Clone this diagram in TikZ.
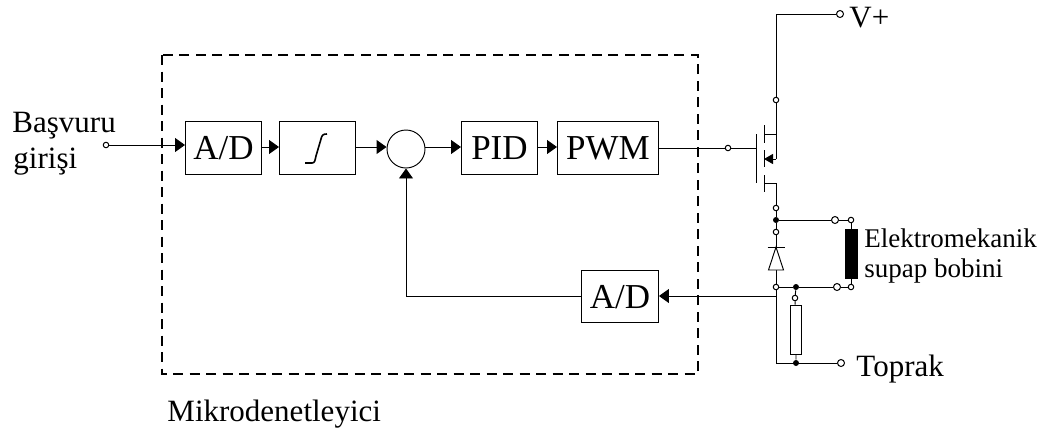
\documentclass[tikz,border=0pt]{standalone}
\usepackage{fontspec}
\setmainfont{Liberation Serif}
\usetikzlibrary{arrows.meta}
\begin{document}
\begin{tikzpicture}[x=1pt,y=-1pt,line width=.95pt,
  blk/.style={draw,rectangle,inner sep=0pt,anchor=north west,text depth=0pt,font=\fontsize{35}{35}\selectfont},
  term/.style={draw,circle,fill=white,inner sep=0pt,minimum size=5.5pt,line width=1pt},
  bigterm/.style={term,minimum size=7pt},
  dot/.style={circle,fill=black,inner sep=0pt,minimum size=6pt},
  lab/.style={inner sep=0pt,anchor=base west,align=left,font=\fontsize{31}{31}\selectfont},
  sm/.style={lab,font=\fontsize{27}{27}\selectfont},
  arr/.style={-{Triangle[length=10pt,width=14pt]}}]
\useasboundingbox (0,0) rectangle (1042,432);
\draw[dash pattern=on 10pt off 6.5pt,line width=1.3pt] (162,55) rectangle (698,374);
% blocks
\node[blk,minimum width=76pt,minimum height=53pt] (ad1) at (185,121) {A/D};
\node[blk,minimum width=76pt,minimum height=53pt] (int) at (279,121) {};
\node[blk,minimum width=76pt,minimum height=53pt] (pid) at (461,121) {PID};
\node[blk,minimum width=101pt,minimum height=53pt] (pwm) at (557,121) {PWM};
\node[blk,minimum width=77pt,minimum height=52pt] (ad2) at (581,270) {A/D};
\node[draw,circle,inner sep=0pt,minimum size=38pt] (sum) at (406,149) {};
\draw[line width=1.6pt] (305,163) -- (312,163) .. controls (315,163) and (315,160) .. (316,156) -- (321,139) .. controls (322,135) and (323,134) .. (327,134);
% input
\node[term] (in) at (106,145) {};
\draw[arr] (in) -- (ad1.west |- in);
\draw[arr] (ad1.east |- 0,147) -- (int.west |- 0,147);
\draw[arr] (int.east |- 0,147) -- (sum.west |- 0,147);
\draw[arr] (sum.east |- 0,147) -- (pid.west |- 0,147);
\draw[arr] (pid.east |- 0,147) -- (pwm.west |- 0,147);
% mosfet
\node[term] (gate) at (728,148) {};
\coordinate (gt) at (756,148);
\draw (pwm.east |- gate) -- (gate) -- (gt);
\draw (756,134) -- (756,183);
\draw (764,125) -- (764,143) (764,150) -- (764,167) (764,175) -- (764,192);
\node[term] (dr) at (776,100) {};
\node[term] (so) at (776,208) {};
\node[bigterm] (vp) at (840,14) {};
\coordinate (cr) at (776,14);
\draw (vp) -- (cr) -- (dr);
\coordinate (srcj) at (776,159);
\draw (dr) -- (srcj);
\draw (776,134) -- (764,134);
\draw[-{Triangle[length=9pt,width=10pt]}] (srcj) -- (764,159);
\coordinate (low) at (776,183);
\draw (764,183) -- (low) -- (so);
% coil branch
\node[dot] (j1) at (776,220) {};
\node[bigterm] (t1) at (835,220) {};
\node[term] (t2) at (851,220) {};
\node[term] (dtop) at (776,232) {};
\node[term] (dbot) at (776,287) {};
\node[dot] (j2) at (796,287) {};
\node[bigterm] (t3) at (837,287) {};
\node[term] (t4) at (851,287) {};
\node[draw,fill=black,inner sep=0pt,minimum width=12pt,minimum height=49pt] (coil) at (851,253.5) {};
\draw (so) -- (j1) -- (dtop);
\draw (j1) -- (t1) -- (t2) -- (coil);
\draw (coil) -- (t4) -- (t3) -- (j2) -- (dbot);
\draw (dtop) -- (dbot);
\draw[fill=white] (776,247) -- (783.5,270) -- (768.5,270) -- cycle;
\draw (767.5,247) -- (784.5,247);
% resistor
\node[term] (r1) at (795,298) {};
\node[draw,fill=white,inner sep=0pt,minimum width=11pt,minimum height=49pt] (res) at (796,329.5) {};
\node[dot] (j3) at (796,363) {};
\node[bigterm] (gnd) at (841,363) {};
\coordinate (bl) at (776,363);
\draw (j2) -- (r1) -- (res) -- (j3);
\draw (dbot) -- (bl) -- (gnd);
% feedback
\coordinate (fb) at (776,296);
\coordinate (fbc) at (406,296);
\draw[arr] (fb) -- (ad2.east |- fb);
\draw[arr] (ad2.west |- fb) -- (fbc) -- (sum.south);
% labels
\node[lab] (l1) at (12,132) {Başvuru};
\node[lab] (l2) at (13,168) {girişi};
\node[lab] (l3) at (849,27) {V+};
\node[sm] (l4) at (864,247) {Elektromekanik};
\node[sm] (l5) at (864,277) {supap bobini};
\node[lab] (l6) at (856,376) {Toprak};
\node[lab] (l7) at (167,421) {Mikrodenetleyici};
\end{tikzpicture}
\end{document}
